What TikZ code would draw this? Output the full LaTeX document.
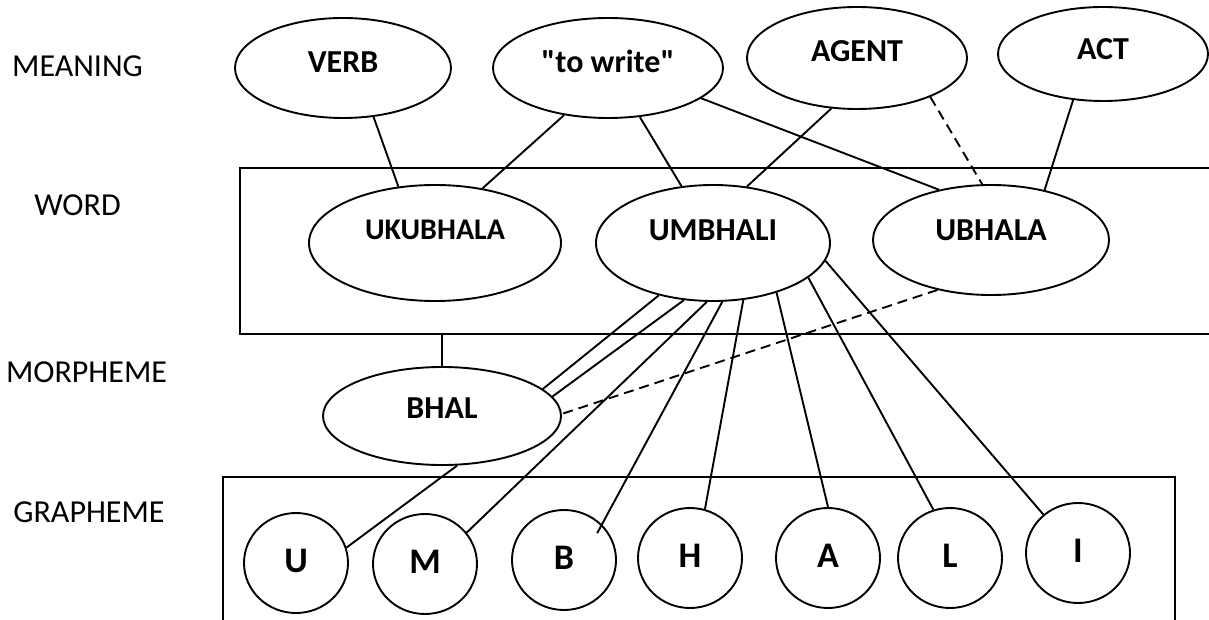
\documentclass[tikz,border=0pt]{standalone}
\usepackage{fontspec}
\setmainfont{Carlito}[Ligatures=TeXOff]
\usetikzlibrary{shapes.geometric,calc}
\begin{document}
\begin{tikzpicture}[x=1pt,y=-1pt, line width=1.9pt,
  ell/.style={draw, ellipse, inner sep=1pt, font=\fontsize{32}{38}\selectfont\bfseries, text height=20.2pt, text depth=#1},
  circ/.style={draw, ellipse, minimum width=104pt, minimum height=100pt, inner sep=1pt, font=\fontsize{36}{43}\selectfont\bfseries, text height=22.8pt, text depth=4pt},
  lvl/.style={font=\fontsize{32}{38}\selectfont, text height=20.2pt, text depth=0pt, inner sep=0pt},
  box/.style={draw, rectangle, anchor=north west, inner sep=0pt},
  dlink/.style={dash pattern=on 10pt off 6pt}]
\useasboundingbox (0,0) rectangle (1209,620);
% level boxes
\node[box, minimum width=1000pt, minimum height=166pt] (wordbox) at (239,167) {};
\node[box, minimum width=952pt, minimum height=170pt] (graphbox) at (222,476) {};
% level labels
\node[lvl] (lmeaning) at (77.5,66.5) {MEANING};
\node[lvl] (lword) at (77.5,205.5) {WORD};
\node[lvl] (lmorph) at (86.5,372) {MORPHEME};
\node[lvl] (lgraph) at (89,512) {GRAPHEME};
% meaning
\node[ell=12pt, minimum width=216pt, minimum height=100pt] (verb) at (343,68) {VERB};
\node[ell=12pt, minimum width=230pt, minimum height=100pt] (towrite) at (608,68) {"to write"};
\node[ell=13pt, minimum width=220pt, minimum height=102pt] (agent) at (857,58) {AGENT};
\node[ell=9pt, minimum width=210pt, minimum height=94pt] (act) at (1103,54) {ACT};
% word
\node[ell=25pt, minimum width=252pt, minimum height=116pt, font=\fontsize{30}{36}\selectfont\bfseries, text height=19pt] (ukubhala) at (435,243) {UKUBHALA};
\node[ell=25pt, minimum width=234pt, minimum height=116pt] (umbhali) at (713,243) {UMBHALI};
\node[ell=20pt, minimum width=236pt, minimum height=110pt] (ubhala) at (991,240) {UBHALA};
% morpheme
\node[ell=16pt, minimum width=238pt, minimum height=98pt] (bhal) at (442,416) {BHAL};
% graphemes
\node[circ] (gu) at (296,563) {U};
\node[circ] (gm) at (425,564) {M};
\node[circ] (gb) at (564,560) {B};
\node[circ] (gh) at (690,558) {H};
\node[circ] (ga) at (828,558) {A};
\node[circ] (gl) at (950,558) {L};
\node[circ] (gi) at (1078,553) {I};
% meaning - word links
\draw (verb.-58.5) -- (ukubhala.123.5);
\draw (towrite.-133.8) -- (ukubhala.49.6);
\draw (towrite.-57.7) -- (umbhali.119.7);
\draw (towrite.-18.3) -- (ubhala.136.6);
\draw (agent.-117) -- (umbhali.59.2);
\draw[dlink] (agent.-28.3) -- (ubhala.99.5);
\draw (act.-123.1) -- (ubhala.43.9);
% word - morpheme
\draw (bhal.north) -- (bhal.north |- wordbox.south);
\draw (umbhali.-136.6) -- (bhal.15.5);
\draw (umbhali.-117.8) -- (bhal.10.7);
\draw[dlink] (ubhala.-137) -- (bhal.1.9);
% graphemes
\draw (bhal.-73) -- (gu.17.1);
\draw (umbhali.-96.9) -- (gm.37.3);
\draw (umbhali.-81) -- ($(gb.center)!0.82!(gb.39.3)$);
\draw (umbhali.-62.2) -- (gh.73.3);
\draw (umbhali.-38.6) -- (ga.90);
\draw (umbhali.-20.4) -- (gl.109.9);
\draw (umbhali.-9.8) -- (gi.132.9);
\end{tikzpicture}
\end{document}
